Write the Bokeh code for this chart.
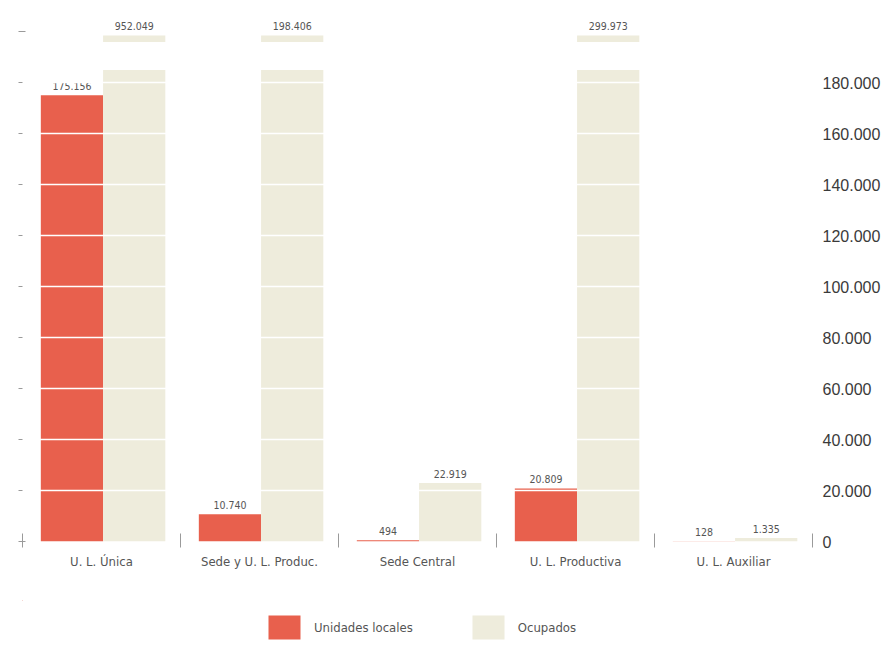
from bokeh.plotting import figure
from bokeh.layouts import column
from bokeh.models import (ColumnDataSource, LinearAxis, FixedTicker, CustomJSTickFormatter,
                          Range1d, Legend, LegendItem, Grid)
from bokeh.core.properties import value
from bokeh.embed import file_html
from bokeh.resources import INLINE

categories = ["U. L. Única", "Sede y U. L. Produc.", "Sede Central", "U. L. Productiva", "U. L. Auxiliar"]
unidades = [175156, 10740, 494, 20809, 128]
ocupados = [952049, 198406, 22919, 299973, 1335]
series_names = ["Unidades locales", "Ocupados"]
right_ticks = [0, 20000, 40000, 60000, 80000, 100000, 120000, 140000, 160000, 180000]
left_ticks = right_ticks + [200000]

RED = "#e8604d"
BEIGE = "#eeecdc"
NARROW = "DejaVu Sans Condensed"
CAP = 185000
STUB_LO, STUB_HI = 196000, 198600
OFF, W, SHIFT = 0.197, 0.394, 0.01


def fmt(v):
    return f"{v:,}".replace(",", ".")


idx = list(range(len(categories)))
red_src = ColumnDataSource(dict(
    x=[i - OFF + SHIFT for i in idx], top=unidades,
    ly=unidades, lab=[fmt(v) for v in unidades]))
beige_src = ColumnDataSource(dict(
    x=[i + OFF + SHIFT for i in idx], top=[min(v, CAP) for v in ocupados],
    ly=[STUB_HI if v > CAP else v for v in ocupados], lab=[fmt(v) for v in ocupados]))
stub_idx = [i for i, v in enumerate(ocupados) if v > CAP]
stub_src = ColumnDataSource(dict(x=[i + OFF + SHIFT for i in stub_idx],
                                 bottom=[STUB_LO] * len(stub_idx), top=[STUB_HI] * len(stub_idx)))

p = figure(width=895, height=600, x_range=Range1d(-0.5, 4.5), y_range=Range1d(0, 208000),
           output_backend="svg", toolbar_location=None, x_axis_location=None, y_axis_location=None,
           min_border_left=22, min_border_right=83, min_border_top=11, min_border_bottom=59)
p.outline_line_color = None
p.grid.visible = False

p.vbar(x="x", top="top", width=W, source=red_src, fill_color=RED, line_color=None)
p.vbar(x="x", top="top", width=W, source=beige_src, fill_color=BEIGE, line_color=None)
p.vbar(x="x", bottom="bottom", top="top", width=W, source=stub_src, fill_color=BEIGE, line_color=None)

p.add_layout(Grid(dimension=1, ticker=FixedTicker(ticks=right_ticks[1:]), grid_line_color="white",
                  grid_line_width=1.6, level="overlay"))

for src in (red_src, beige_src):
    p.text(x="x", y="ly", text="lab", source=src, text_align="center", text_baseline="bottom",
           y_offset=-5, text_font=value(NARROW), text_font_size="10.5px", text_color="#555555")

# left tick marks
left = LinearAxis(ticker=FixedTicker(ticks=left_ticks), axis_line_color=None,
                  major_tick_in=3, major_tick_out=4, major_tick_line_color="#9a9a9a",
                  formatter=CustomJSTickFormatter(code="return ''"), major_label_text_font_size="1px",
                  minor_tick_line_color=None)
p.add_layout(left, "left")

# right labels
right = LinearAxis(ticker=FixedTicker(ticks=right_ticks), axis_line_color=None,
                   major_tick_line_color=None, major_tick_out=0, major_tick_in=0,
                   minor_tick_line_color=None, major_label_standoff=10,
                   formatter=CustomJSTickFormatter(
                       code="return tick.toFixed(0).replace(/\\B(?=(\\d{3})+(?!\\d))/g, '.')"),
                   major_label_text_font="Liberation Sans", major_label_text_font_size="16px",
                   major_label_text_color="#3a3a3a")
p.add_layout(right, "right")

# bottom category labels and separators
bottom = LinearAxis(ticker=FixedTicker(ticks=idx, minor_ticks=[i - 0.5 for i in idx] + [len(idx) - 0.5]),
                    axis_line_color=None, major_tick_line_color=None, major_tick_out=0, major_tick_in=0,
                    minor_tick_in=8, minor_tick_out=6, minor_tick_line_color="#9a9a9a",
                    formatter=CustomJSTickFormatter(args=dict(labels=categories),
                                                    code="return labels[Math.round(tick)]"),
                    major_label_standoff=6, major_label_text_font=NARROW,
                    major_label_text_font_size="13px", major_label_text_color="#555555")
p.add_layout(bottom, "below")

# legend strip below the chart (same data sources, kept outside this strip's visible ranges)
lg = figure(width=895, height=45, output_backend="svg", toolbar_location=None,
            x_range=Range1d(10, 11), y_range=Range1d(-3, -2),
            x_axis_location=None, y_axis_location=None, min_border=0)
lg.outline_line_color = None
lg.grid.visible = False
l_red = lg.vbar(x="x", top="top", width=W, source=red_src, fill_color=RED, line_color=None)
l_beige = lg.vbar(x="x", top="top", width=W, source=beige_src, fill_color=BEIGE, line_color=None)
legend = Legend(items=[LegendItem(label=series_names[0], renderers=[l_red]),
                       LegendItem(label=series_names[1], renderers=[l_beige])],
                orientation="horizontal", location=(242, 3), glyph_width=40, glyph_height=30,
                label_standoff=10, spacing=55, padding=0, margin=0,
                border_line_color=None, background_fill_alpha=0,
                label_text_font=NARROW, label_text_font_size="13px", label_text_color="#555555")
lg.add_layout(legend, "center")

layout = column(p, lg, spacing=0)
open("out.html", "w").write(file_html(layout, INLINE))
